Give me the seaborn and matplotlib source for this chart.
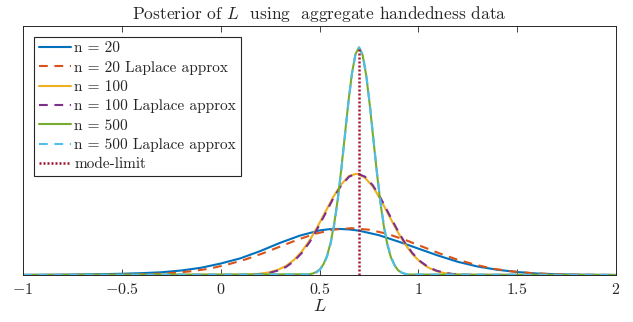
import matplotlib
matplotlib.use("Agg")
import matplotlib.pyplot as plt
import seaborn as sns

# ---------------- data ----------------
# n = 20 exact posterior
n20_x = [-1.0, -0.9, -0.8, -0.7, -0.6, -0.5, -0.4, -0.3, -0.2, -0.1, 0.0, 0.1, 0.2, 0.3, 0.4,
         0.5, 0.55, 0.6, 0.65, 0.7, 0.8, 0.9, 1.0, 1.1, 1.2, 1.3, 1.4, 1.5, 1.6, 1.7, 1.8, 1.9, 2.0]
n20_y = [0.0006, 0.0010, 0.0015, 0.0023, 0.0034, 0.0050, 0.0074, 0.011, 0.018, 0.029, 0.046, 0.067,
         0.096, 0.129, 0.158, 0.179, 0.184, 0.185, 0.183, 0.178, 0.160, 0.134, 0.106, 0.078, 0.053,
         0.034, 0.021, 0.012, 0.006, 0.003, 0.0014, 0.0006, 0.0002]

# n = 20 Laplace approx
n20L_x = [-1.05, -0.96, -0.87, -0.78, -0.69, -0.60, -0.51, -0.42, -0.33, -0.24, -0.15, -0.06, 0.03,
          0.12, 0.21, 0.30, 0.39, 0.48, 0.57, 0.66, 0.75, 0.84, 0.93, 1.02, 1.11, 1.20, 1.29, 1.38,
          1.47, 1.56, 1.65, 1.74, 1.83, 1.92, 2.01]
n20L_y = [0.0, 0.0, 0.0, 0.0001, 0.0002, 0.0004, 0.0010, 0.0021, 0.0043, 0.0083, 0.015, 0.025, 0.041,
          0.061, 0.086, 0.114, 0.142, 0.166, 0.182, 0.188, 0.182, 0.166, 0.142, 0.114, 0.086, 0.061,
          0.041, 0.025, 0.015, 0.0083, 0.0043, 0.0021, 0.0010, 0.0004, 0.0002]

# n = 100 (exact and Laplace)
n100_x = [-1.0, 0.09, 0.13, 0.17, 0.21, 0.25, 0.29, 0.33, 0.37, 0.41, 0.45, 0.49, 0.53, 0.57, 0.61,
          0.65, 0.69, 0.73, 0.77, 0.81, 0.85, 0.89, 0.93, 0.97, 1.01, 1.05, 1.09, 1.13, 1.17, 1.21,
          1.25, 1.29, 2.0]
n100_y = [0.0, 0.0008, 0.0015, 0.0030, 0.0060, 0.0115, 0.021, 0.036, 0.060, 0.094, 0.139, 0.194,
          0.254, 0.314, 0.364, 0.398, 0.407, 0.391, 0.355, 0.302, 0.241, 0.181, 0.127, 0.084, 0.052,
          0.030, 0.016, 0.008, 0.0039, 0.0017, 0.0007, 0.0003, 0.0]
n100L_y = [0.0, 0.0004, 0.0009, 0.0021, 0.0045, 0.0093, 0.018, 0.032, 0.055, 0.088, 0.132, 0.187,
           0.247, 0.308, 0.360, 0.395, 0.408, 0.395, 0.360, 0.308, 0.247, 0.187, 0.132, 0.088,
           0.055, 0.032, 0.018, 0.0093, 0.0045, 0.0021, 0.0009, 0.0004, 0.0]

# n = 500 (exact and Laplace)
n500_x = [-1.0, 0.448, 0.466, 0.484, 0.502, 0.520, 0.538, 0.556, 0.574, 0.592, 0.610, 0.628, 0.646,
          0.664, 0.682, 0.700, 0.718, 0.736, 0.754, 0.772, 0.790, 0.808, 0.826, 0.844, 0.862, 0.880,
          0.898, 0.916, 0.934, 0.952, 2.0]
n500_y = [0.0, 0.003, 0.006, 0.012, 0.023, 0.043, 0.077, 0.129, 0.204, 0.303, 0.424, 0.559, 0.694,
          0.809, 0.887, 0.914, 0.884, 0.803, 0.685, 0.549, 0.413, 0.291, 0.193, 0.119, 0.069, 0.038,
          0.019, 0.009, 0.004, 0.002, 0.0]
n500L_y = [0.0, 0.002, 0.005, 0.010, 0.021, 0.040, 0.073, 0.124, 0.198, 0.297, 0.418, 0.554, 0.690,
           0.807, 0.886, 0.914, 0.886, 0.807, 0.690, 0.554, 0.418, 0.297, 0.198, 0.124, 0.073, 0.040,
           0.021, 0.010, 0.005, 0.002, 0.0]

mode_limit = 0.70

labels = ["n = 20", "n = 20 Laplace approx", "n = 100", "n = 100 Laplace approx",
          "n = 500", "n = 500 Laplace approx", "mode-limit"]
tick_values = [-1, -0.5, 0, 0.5, 1, 1.5, 2]
tick_labels = ["$-1$", "$-0.5$", "$0$", "$0.5$", "$1$", "$1.5$", "$2$"]
title = "Posterior of $L$  using  aggregate handedness data"
xlabel = "$L$"

# ---------------- style ----------------
sns.set_style("white")
plt.rcParams["font.family"] = ["cmr10", "DejaVu Serif"]
plt.rcParams["mathtext.fontset"] = "cm"
plt.rcParams["axes.unicode_minus"] = False
plt.rcParams["axes.formatter.use_mathtext"] = True

colors = ["#0072BD", "#D95319", "#EDB120", "#7E2F8E", "#77AC30", "#4DBEEE", "#A2142F"]
dash = (0, (4.2, 3.2))
solid = "-"

fig = plt.figure(figsize=(6.33, 3.22), dpi=100)
ax = fig.add_axes([23 / 633, 47 / 322, 593 / 633, 249 / 322])

series = [
    (n20_x, n20_y, solid),
    (n20L_x, n20L_y, dash),
    (n100_x, n100_y, solid),
    (n100_x, n100L_y, dash),
    (n500_x, n500_y, solid),
    (n500_x, n500L_y, dash),
]
lw = 1.5
for (xs, ys, ls), lab, col in zip(series, labels[:6], colors[:6]):
    sns.lineplot(x=xs, y=ys, ax=ax, color=col, linestyle=ls, linewidth=lw,
                 label=lab, estimator=None, sort=False)

sns.lineplot(x=[mode_limit, mode_limit], y=[0, max(n500_y)], ax=ax, color=colors[6],
             linestyle=(0, (0.8, 0.8)), linewidth=1.8, label=labels[6],
             estimator=None, sort=False)

ax.set_xlim(-1, 2)
ax.set_ylim(0, 1)
ax.set_xticks(tick_values)
ax.set_xticklabels(tick_labels, fontsize=11.5)
ax.set_yticks([])
ax.tick_params(axis="x", direction="in", length=4, width=0.6, color="#262626",
               top=True, bottom=True, pad=5)
for sp in ax.spines.values():
    sp.set_visible(True)
    sp.set_color("#262626")
    sp.set_linewidth(0.7)

ax.set_title(title, fontsize=12.5, pad=5)
ax.set_xlabel(xlabel, fontsize=13, labelpad=0.5)
ax.set_ylabel("")

leg = ax.legend(loc="upper left", bbox_to_anchor=(0.0185, 0.956), borderaxespad=0,
                frameon=True, fancybox=False, edgecolor="#262626", framealpha=1,
                handlelength=2.15, handletextpad=0.2, labelspacing=0.36, borderpad=0.3,
                fontsize=11)
leg.get_frame().set_linewidth(0.8)

fig.savefig("out.png", dpi=100)
